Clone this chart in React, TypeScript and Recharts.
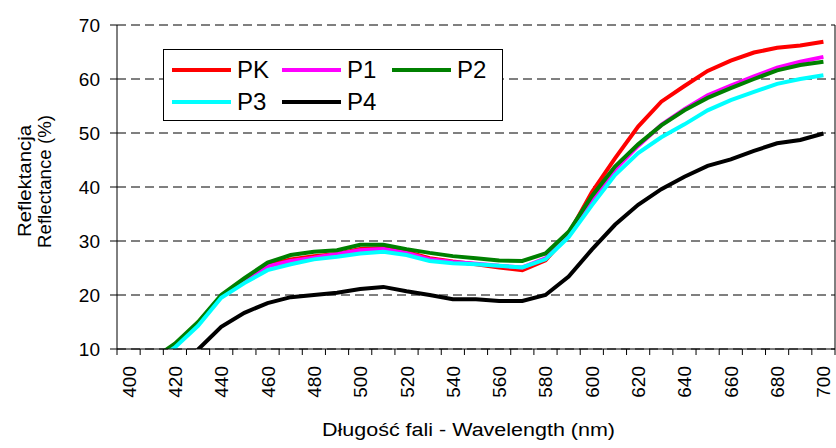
import { CartesianGrid, Legend, Line, LineChart, ReferenceLine, XAxis, YAxis } from "recharts";

const wavelengths = [400, 410, 420, 430, 440, 450, 460, 470, 480, 490, 500, 510, 520, 530, 540, 550, 560, 570, 580, 590, 600, 610, 620, 630, 640, 650, 660, 670, 680, 690, 700];

const pk = [4.8, 7.7, 10.7, 14.7, 19.7, 22.8, 25.6, 26.6, 27.2, 27.6, 28.5, 28.7, 28.0, 26.8, 26.2, 25.7, 25.1, 24.6, 26.4, 31.3, 39.0, 45.3, 51.2, 55.8, 58.7, 61.5, 63.4, 64.9, 65.8, 66.2, 66.9];
const p1 = [4.9, 7.8, 10.8, 14.8, 19.8, 22.7, 25.3, 26.3, 26.9, 27.6, 28.3, 28.5, 27.8, 26.6, 26.1, 25.8, 25.4, 25.1, 26.8, 31.2, 37.6, 43.2, 47.6, 51.5, 54.4, 57.0, 58.8, 60.5, 62.1, 63.2, 64.1];
const p2 = [5.0, 8.0, 11.0, 15.0, 20.0, 23.1, 26.0, 27.4, 28.0, 28.3, 29.3, 29.3, 28.5, 27.8, 27.2, 26.8, 26.4, 26.3, 27.7, 31.7, 38.3, 43.8, 47.9, 51.4, 54.2, 56.5, 58.3, 60.0, 61.6, 62.6, 63.2];
const p3 = [4.5, 7.5, 10.3, 14.3, 19.5, 22.2, 24.6, 25.7, 26.6, 27.1, 27.7, 28.0, 27.4, 26.3, 25.9, 25.7, 25.4, 25.1, 26.6, 30.7, 36.6, 42.2, 46.3, 49.2, 51.6, 54.2, 56.1, 57.6, 59.1, 60.0, 60.7];
const p4 = [3.5, 5.0, 6.8, 9.9, 14.1, 16.7, 18.5, 19.6, 20.0, 20.4, 21.1, 21.5, 20.7, 20.0, 19.2, 19.2, 18.9, 18.9, 20.0, 23.4, 28.4, 33.0, 36.7, 39.6, 41.9, 43.9, 45.1, 46.7, 48.1, 48.7, 49.9];

const seriesNames = ["PK", "P1", "P2", "P3", "P4"];
const seriesColors = ["#FF0000", "#FF00FF", "#008000", "#00FFFF", "#000000"];
const yTicks = [10, 20, 30, 40, 50, 60, 70];
const labeledTicks = [400, 420, 440, 460, 480, 500, 520, 540, 560, 580, 600, 620, 640, 660, 680, 700];

const FONT = "'Liberation Sans', Arial, sans-serif";
const HALF_STEP = 718 / 31 / 2;

const data = wavelengths.map((wl, i) => ({
  wl,
  PK: pk[i],
  P1: p1[i],
  P2: p2[i],
  P3: p3[i],
  P4: p4[i],
}));

const XTick = (props: any) => {
  const { x, y, payload } = props;
  const v = payload.value;
  const axisY = y - 6;
  return (
    <g>
      <line x1={x - HALF_STEP} x2={x - HALF_STEP} y1={axisY} y2={axisY + 6} stroke="#000" />
      {v === 700 && <line x1={x + HALF_STEP} x2={x + HALF_STEP} y1={axisY} y2={axisY + 6} stroke="#000" />}
      {labeledTicks.includes(v) && (
        <text
          transform={`translate(${x + 7},${axisY + 17}) rotate(-90)`}
          textAnchor="end"
          fontSize={19}
          fontFamily={FONT}
          fill="#000"
        >
          {v}
        </text>
      )}
    </g>
  );
};

const LegendBox = () => (
  <div
    style={{
      width: 338,
      height: 70,
      border: "1px solid #000",
      background: "#fff",
      fontFamily: FONT,
      fontSize: 24,
      color: "#000",
      position: "relative",
    }}
  >
    {seriesNames.map((name, i) => (
      <div
        key={name}
        style={{
          position: "absolute",
          left: 8 + (i % 3) * 110,
          top: i < 3 ? 6 : 38,
          display: "flex",
          alignItems: "center",
          height: 28,
        }}
      >
        <div style={{ width: 59, height: 4, background: seriesColors[i], marginRight: 6 }} />
        <span>{name}</span>
      </div>
    ))}
  </div>
);

export default function App() {
  return (
    <div style={{ position: "absolute", left: 0, top: 0 }}>
      <LineChart width={836} height={448} data={data} margin={{ top: 25, right: 1, left: 0, bottom: 0 }}>
        <CartesianGrid vertical={false} stroke="#000" strokeDasharray="9 5" />
        <XAxis
          dataKey="wl"
          type="number"
          domain={[395, 705]}
          ticks={wavelengths}
          interval={0}
          tickSize={6}
          tickMargin={0}
          tickLine={false}
          axisLine={{ stroke: "#000" }}
          tick={<XTick />}
          height={99}
          label={{
            content: () => (
              <text
                x={322}
                y={436}
                fontSize={18}
                fontFamily={FONT}
                fill="#000"
                textLength={293}
                lengthAdjust="spacingAndGlyphs"
              >
                Długość fali - Wavelength (nm)
              </text>
            ),
          }}
        />
        <YAxis
          domain={[10, 70]}
          ticks={yTicks}
          allowDataOverflow
          width={117}
          tickSize={7}
          tickMargin={10}
          axisLine={{ stroke: "#000" }}
          tickLine={{ stroke: "#000" }}
          tick={{ fill: "#000", fontSize: 19, fontFamily: FONT }}
          label={{
            content: () => (
              <g fontSize={18} fontFamily={FONT} fill="#000">
                <text
                  transform="translate(31,237) rotate(-90)"
                  textLength={112}
                  lengthAdjust="spacingAndGlyphs"
                >
                  Reflektancja
                </text>
                <text
                  transform="translate(51,248) rotate(-90)"
                  textLength={133}
                  lengthAdjust="spacingAndGlyphs"
                >
                  Reflectance (%)
                </text>
              </g>
            ),
          }}
        />
        <ReferenceLine x={705} stroke="#000" />
        <Legend
          layout="vertical"
          align="center"
          verticalAlign="middle"
          content={<LegendBox />}
          wrapperStyle={{ position: "absolute", left: 163, top: 49, width: 340, height: 72 }}
        />
        {seriesNames.map((name, i) => (
          <Line
            key={name}
            dataKey={name}
            stroke={seriesColors[i]}
            strokeWidth={4}
            dot={false}
            activeDot={false}
            isAnimationActive={false}
          />
        ))}
      </LineChart>
    </div>
  );
}
